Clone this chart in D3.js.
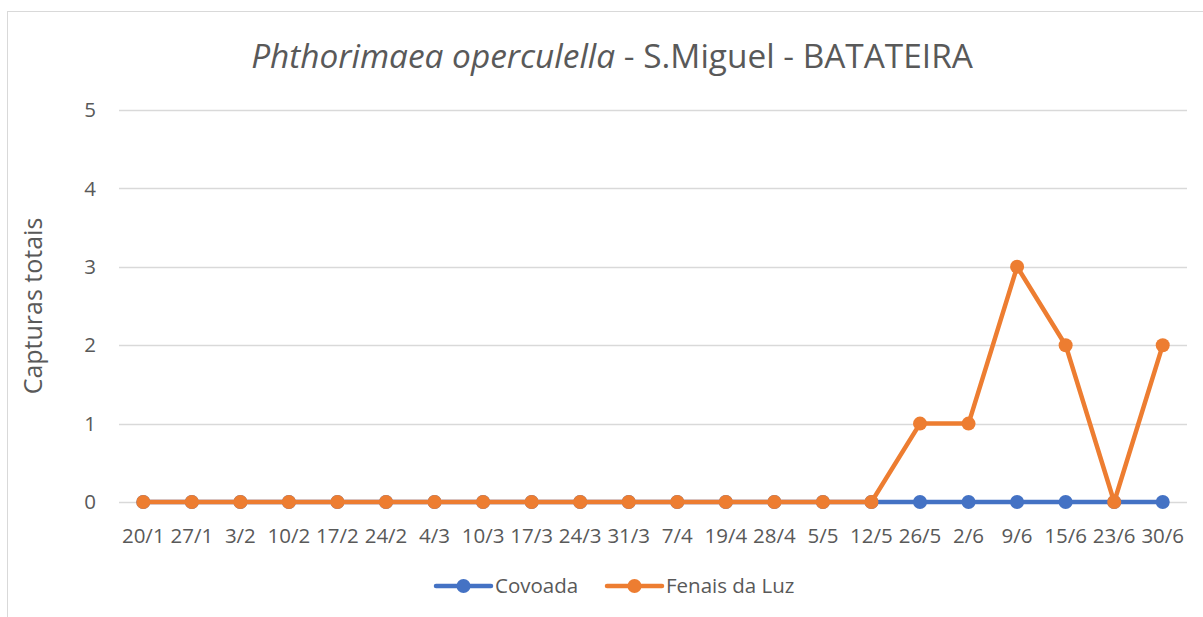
<!DOCTYPE html>
<html>
<head>
<meta charset="utf-8">
<script src="https://cdn.jsdelivr.net/npm/d3@7"></script>
<style>
  body { margin: 0; background: #fff; }
  svg { display: block; font-family: "Open Sans", "Liberation Sans", sans-serif; }
</style>
</head>
<body>
<svg id="chart" width="1203" height="617"></svg>
<script>
const dates = ["20/1", "27/1", "3/2", "10/2", "17/2", "24/2", "4/3", "10/3", "17/3", "24/3", "31/3",
  "7/4", "19/4", "28/4", "5/5", "12/5", "26/5", "2/6", "9/6", "15/6", "23/6", "30/6"];
const covoada = [0, 0, 0, 0, 0, 0, 0, 0, 0, 0, 0, 0, 0, 0, 0, 0, 0, 0, 0, 0, 0, 0];
const fenais = [0, 0, 0, 0, 0, 0, 0, 0, 0, 0, 0, 0, 0, 0, 0, 0, 1, 1, 3, 2, 0, 2];
const yTicks = [0, 1, 2, 3, 4, 5];

const series = [
  { name: "Covoada", values: covoada, color: "#4472C4" },
  { name: "Fenais da Luz", values: fenais, color: "#ED7D31" },
];

const svg = d3.select("#chart");
const textColor = "#595959";

// chart frame (extends past the right and bottom of the window)
svg.append("rect")
  .attr("x", 7.5).attr("y", 11.5)
  .attr("width", 1300).attr("height", 700)
  .attr("fill", "none").attr("stroke", "#d9d9d9");

const x = d3.scaleBand().domain(dates).range([119, 1187]);
const y = d3.scaleLinear().domain([0, 5]).range([502, 110]);

// grid
svg.append("g")
  .selectAll("line")
  .data(yTicks)
  .join("line")
  .attr("x1", 119).attr("x2", 1187)
  .attr("y1", d => Math.round(y(d)) + 0.5)
  .attr("y2", d => Math.round(y(d)) + 0.5)
  .attr("stroke", "#d9d9d9").attr("stroke-width", 1.3);

// y labels
svg.append("g")
  .selectAll("text")
  .data(yTicks)
  .join("text")
  .attr("x", 96).attr("y", d => y(d))
  .attr("dy", "0.35em")
  .attr("text-anchor", "end")
  .attr("font-size", 20.5).attr("fill", textColor)
  .text(d => d);

// x labels
svg.append("g")
  .selectAll("text")
  .data(dates)
  .join("text")
  .attr("x", d => x(d) + x.bandwidth() / 2)
  .attr("y", 543)
  .attr("text-anchor", "middle")
  .attr("font-size", 20.5).attr("fill", textColor)
  .text(d => d);

// y axis title
svg.append("text")
  .attr("transform", "translate(42,306) rotate(-90)")
  .attr("text-anchor", "middle")
  .attr("font-size", 25).attr("fill", textColor)
  .text("Capturas totais");

// title
const title = svg.append("text")
  .attr("x", 612).attr("y", 68)
  .attr("text-anchor", "middle")
  .attr("font-size", 33.4).attr("fill", textColor);
title.append("tspan").attr("font-style", "italic").text("Phthorimaea operculella");
title.append("tspan").text(" - S.Miguel - BATATEIRA");

// lines
const line = d3.line()
  .x((d, i) => x(dates[i]) + x.bandwidth() / 2)
  .y(d => y(d));

series.forEach(s => {
  const g = svg.append("g");
  g.append("path")
    .attr("d", line(s.values))
    .attr("fill", "none")
    .attr("stroke", s.color)
    .attr("stroke-width", 4.5)
    .attr("stroke-linejoin", "round");
  g.selectAll("circle")
    .data(s.values)
    .join("circle")
    .attr("cx", (d, i) => x(dates[i]) + x.bandwidth() / 2)
    .attr("cy", d => y(d))
    .attr("r", 7)
    .attr("fill", s.color);
});

// legend
const legendX = [436, 607];
const legend = svg.append("g")
  .selectAll("g")
  .data(series)
  .join("g")
  .attr("transform", (d, i) => `translate(${legendX[i]},586)`);
legend.append("line")
  .attr("x1", 0).attr("x2", 55)
  .attr("stroke", d => d.color).attr("stroke-width", 4.5)
  .attr("stroke-linecap", "round");
legend.append("circle")
  .attr("cx", 27.5).attr("r", 7)
  .attr("fill", d => d.color);
legend.append("text")
  .attr("x", 59).attr("dy", "0.35em")
  .attr("font-size", 20.5).attr("fill", textColor)
  .text(d => d.name);
</script>
</body>
</html>
